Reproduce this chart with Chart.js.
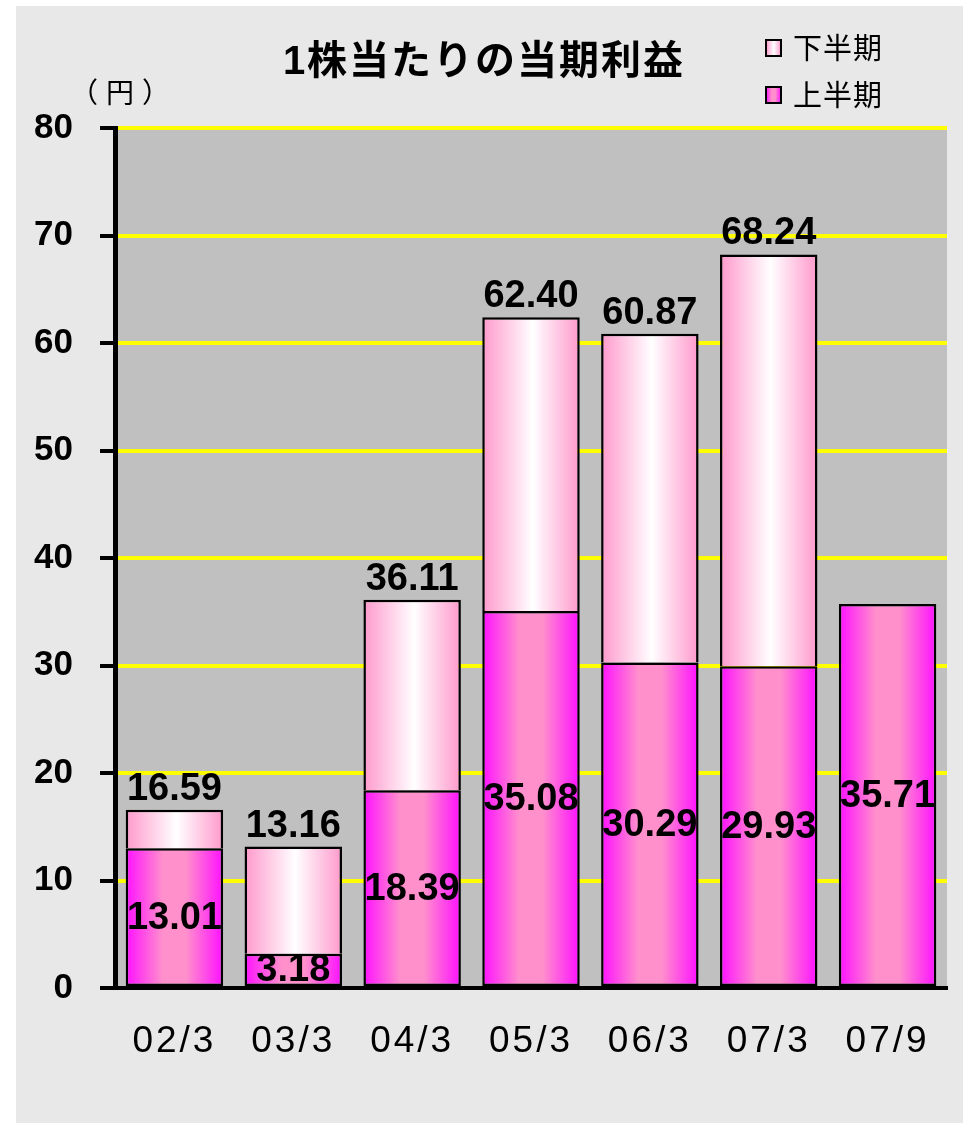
<!DOCTYPE html>
<html>
<head>
<meta charset="utf-8">
<title>1株当たりの当期利益</title>
<script src="https://cdn.jsdelivr.net/npm/chart.js@4/dist/chart.umd.min.js"></script>
<style>
  html, body { margin: 0; padding: 0; background: #ffffff; }
  canvas { display: block; }
</style>
</head>
<body>
<canvas id="epsChart" width="963" height="1123"></canvas>
<script>
// periods (fiscal year end / half)
var periods = ['02/3', '03/3', '04/3', '05/3', '06/3', '07/3', '07/9'];
// first half EPS (円)
var firstHalf = [13.01, 3.18, 18.39, 35.08, 30.29, 29.93, 35.71];
// full year EPS (円), the last period has no full year yet
var fullYear = [16.59, 13.16, 36.11, 62.40, 60.87, 68.24, null];
var yTicks = [0, 10, 20, 30, 40, 50, 60, 70, 80];

var chartTitle = '1株当たりの当期利益';
var unitLabel = '（円）';

// second half = full year minus first half
var secondHalf = fullYear.map(function (v, i) {
    if (v === null) return null;
    return Math.round((v - firstHalf[i]) * 100) / 100;
});

var BAR_PCT = 0.82;
var NUM_FONT = 'bold 38px "Liberation Sans", Arial, sans-serif';

function upperGradient(ctx, x0, x1) {
    var g = ctx.createLinearGradient(x0, 0, x1, 0);
    g.addColorStop(0, '#ff10ff');
    g.addColorStop(0.38, '#ff90cc');
    g.addColorStop(0.62, '#ff90cc');
    g.addColorStop(1, '#ff10ff');
    return g;
}

function lowerGradient(ctx, x0, x1) {
    var g = ctx.createLinearGradient(x0, 0, x1, 0);
    g.addColorStop(0, '#ff99cc');
    g.addColorStop(0.52, '#ffffff');
    g.addColorStop(1, '#ff99cc');
    return g;
}

// fill each bar with a horizontal gradient spanning its own width
function barFill(kind) {
    return function (context) {
        var chart = context.chart;
        var xs = chart.scales.x;
        if (!chart.chartArea || !xs || context.dataIndex === undefined) {
            return kind === 'upper' ? '#ff66dd' : '#ffccee';
        }
        var center = xs.getPixelForValue(context.dataIndex);
        var half = chart.chartArea.width / periods.length * BAR_PCT / 2;
        if (kind === 'upper') return upperGradient(chart.ctx, center - half, center + half);
        return lowerGradient(chart.ctx, center - half, center + half);
    };
}

var backdrop = {
    id: 'backdrop',
    beforeDraw: function (chart) {
        var ctx = chart.ctx;
        var a = chart.chartArea;
        ctx.letterSpacing = '0px';
        ctx.save();
        ctx.fillStyle = '#ffffff';
        ctx.fillRect(0, 0, chart.width, chart.height);
        ctx.fillStyle = '#e8e8e8';
        ctx.fillRect(16, 6, chart.width - 16, chart.height - 6);
        ctx.fillStyle = '#c0c0c0';
        ctx.fillRect(a.left, a.top, a.right - a.left, a.bottom - a.top);
        ctx.restore();
    }
};

var valueLabels = {
    id: 'valueLabels',
    afterDatasetsDraw: function (chart) {
        var ctx = chart.ctx;
        var lower = chart.getDatasetMeta(0).data;
        var upper = chart.getDatasetMeta(1).data;
        ctx.save();
        ctx.font = NUM_FONT;
        ctx.fillStyle = '#000000';
        ctx.textAlign = 'center';
        firstHalf.forEach(function (v, i) {
            var el = lower[i];
            ctx.textBaseline = 'middle';
            ctx.fillText(v.toFixed(2), el.x, (el.y + el.base) / 2 + 1);
        });
        fullYear.forEach(function (v, i) {
            if (v === null) return;
            var el = upper[i];
            ctx.textBaseline = 'alphabetic';
            ctx.fillText(v.toFixed(2), el.x, el.y - 10);
        });
        ctx.restore();
        // wider spacing for the period labels, drawn after the bars
        ctx.letterSpacing = '3px';
    },
    afterDraw: function (chart) {
        chart.ctx.letterSpacing = '0px';
    }
};

var headings = {
    id: 'headings',
    afterDraw: function (chart) {
        var ctx = chart.ctx;
        ctx.save();
        ctx.fillStyle = '#000000';
        ctx.textBaseline = 'middle';

        ctx.letterSpacing = '2px';
        ctx.font = 'bold 40px "Liberation Sans", "Noto Sans CJK JP", sans-serif';
        ctx.textAlign = 'center';
        ctx.fillText(chartTitle, 484, 63);

        ctx.letterSpacing = '8px';
        ctx.font = '28px "Noto Sans CJK JP", sans-serif';
        ctx.textAlign = 'left';
        ctx.fillText(unitLabel, 70, 92);

        // legend, second half listed first
        ctx.letterSpacing = '1px';
        var items = [
            { text: chart.data.datasets[1].label, fill: lowerGradient(ctx, 766, 781), y: 48 },
            { text: chart.data.datasets[0].label, fill: upperGradient(ctx, 766, 781), y: 95 }
        ];
        ctx.font = '29px "Noto Sans CJK JP", sans-serif';
        items.forEach(function (it) {
            ctx.fillStyle = it.fill;
            ctx.fillRect(766, it.y - 8, 15, 16);
            ctx.strokeStyle = '#000000';
            ctx.lineWidth = 2;
            ctx.strokeRect(766, it.y - 8, 15, 16);
            ctx.fillStyle = '#000000';
            ctx.fillText(it.text, 793, it.y);
        });
        ctx.restore();
    }
};

var ctx = document.getElementById('epsChart').getContext('2d');
new Chart(ctx, {
    type: 'bar',
    data: {
        labels: periods,
        datasets: [
            {
                label: '上半期',
                data: firstHalf,
                backgroundColor: barFill('upper'),
                borderColor: '#000000',
                borderWidth: 2.5,
                borderSkipped: false
            },
            {
                label: '下半期',
                data: secondHalf,
                backgroundColor: barFill('lower'),
                borderColor: '#000000',
                borderWidth: 2.5,
                borderSkipped: 'bottom'
            }
        ]
    },
    options: {
        responsive: false,
        animation: false,
        devicePixelRatio: 1,
        layout: { padding: { top: 128, right: 16, left: 0, bottom: 0 } },
        datasets: {
            bar: { barPercentage: BAR_PCT, categoryPercentage: 1 }
        },
        plugins: {
            legend: { display: false },
            title: { display: false },
            tooltip: { enabled: false }
        },
        scales: {
            x: {
                stacked: true,
                grid: { display: false, drawTicks: false },
                border: { display: true, color: '#000000', width: 4, z: 1 },
                ticks: {
                    z: 1,
                    color: '#000000',
                    padding: 32,
                    font: { family: '"Liberation Sans", Arial, sans-serif', size: 37 }
                },
                afterFit: function (scale) { scale.height = 135; }
            },
            y: {
                stacked: true,
                min: 0,
                max: 80,
                afterBuildTicks: function (scale) {
                    scale.ticks = yTicks.map(function (v) { return { value: v }; });
                },
                grid: {
                    color: '#ffff00',
                    lineWidth: 4,
                    tickColor: '#000000',
                    tickWidth: 4,
                    tickLength: 15
                },
                border: { display: true, color: '#000000', width: 5 },
                ticks: {
                    color: '#000000',
                    padding: 27,
                    font: { family: '"Liberation Sans", Arial, sans-serif', size: 35, weight: 'bold' }
                },
                afterFit: function (scale) { scale.width = 115; }
            }
        }
    },
    plugins: [backdrop, valueLabels, headings]
});
</script>
</body>
</html>
